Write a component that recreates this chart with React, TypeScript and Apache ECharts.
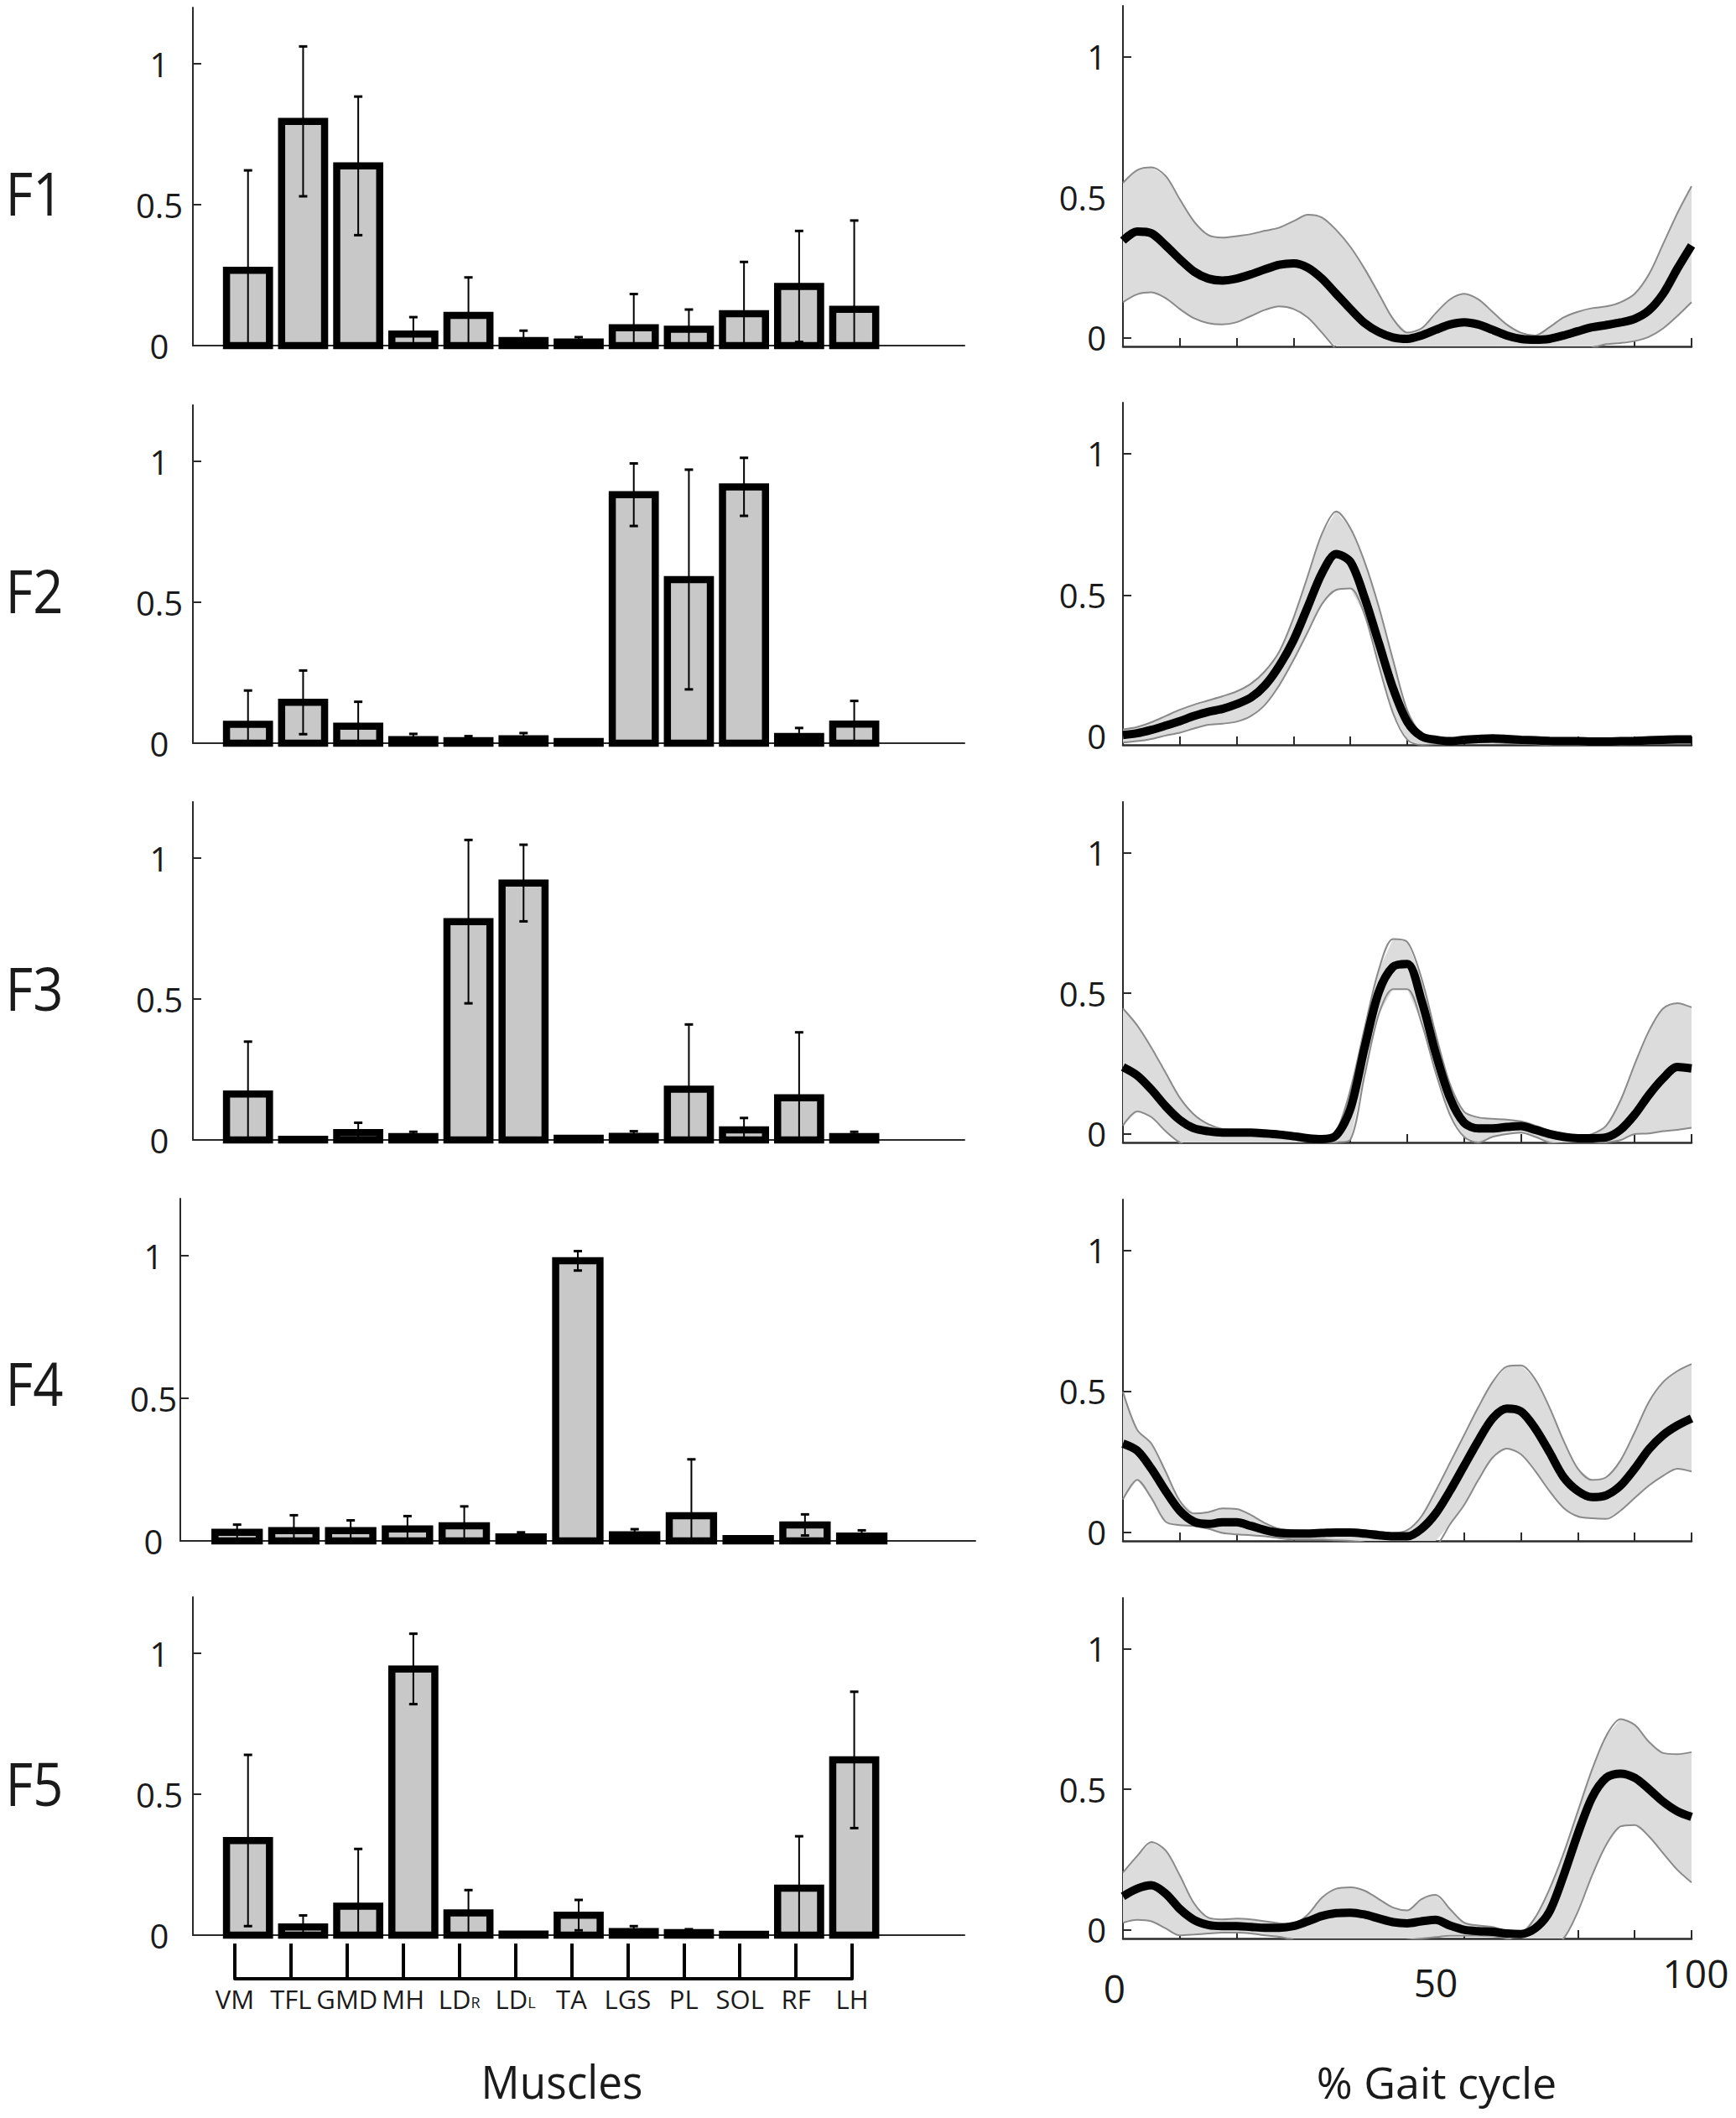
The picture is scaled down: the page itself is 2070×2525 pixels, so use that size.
import React, { useEffect, useRef } from "react";
import * as echarts from "echarts";

// ---------------- data ----------------
const muscles = ["VM", "TFL", "GMD", "MH", "LDR", "LDL", "TA", "LGS", "PL", "SOL", "RF", "LH"];
const barX = [1, 2, 3, 4, 5, 6, 7, 8, 9, 10, 11, 12];
const rowLabels = ["F1", "F2", "F3", "F4", "F5"];

const f1BarMean = [0.267, 0.796, 0.638, 0.041, 0.107, 0.018, 0.013, 0.063, 0.058, 0.113, 0.21, 0.129];
const f1BarSd = [0.355, 0.266, 0.246, 0.06, 0.135, 0.035, 0.017, 0.12, 0.07, 0.184, 0.197, 0.315];
const f2BarMean = [0.067, 0.145, 0.06, 0.013, 0.009, 0.016, 0.006, 0.882, 0.581, 0.91, 0.024, 0.068];
const f2BarSd = [0.12, 0.113, 0.087, 0.02, 0.016, 0.02, 0.005, 0.111, 0.39, 0.103, 0.03, 0.082];
const f3BarMean = [0.163, 0.002, 0.026, 0.012, 0.775, 0.912, 0.006, 0.013, 0.18, 0.036, 0.15, 0.012];
const f3BarSd = [0.186, 0.001, 0.035, 0.017, 0.29, 0.136, 0.005, 0.018, 0.23, 0.042, 0.232, 0.017];
const f4BarMean = [0.03, 0.036, 0.036, 0.042, 0.053, 0.014, 0.982, 0.021, 0.088, 0.008, 0.056, 0.017];
const f4BarSd = [0.027, 0.054, 0.036, 0.045, 0.068, 0.016, 0.034, 0.02, 0.198, 0.003, 0.037, 0.02];
const f5BarMean = [0.336, 0.029, 0.103, 0.945, 0.079, 0.004, 0.071, 0.013, 0.009, 0.003, 0.167, 0.622];
const f5BarSd = [0.304, 0.041, 0.203, 0.125, 0.081, 0.002, 0.054, 0.019, 0.012, 0.001, 0.184, 0.242];

const gaitPct = [0, 2.5, 5, 7.5, 10, 12.5, 15, 17.5, 20, 22.5, 25, 27.5, 30, 32.5, 35, 37.5, 40, 42.5, 45, 47.5, 50,
  52.5, 55, 57.5, 60, 62.5, 65, 67.5, 70, 72.5, 75, 77.5, 80, 82.5, 85, 87.5, 90, 92.5, 95, 97.5, 100];
const gaitTickLabels = [0, 50, 100];
const yTickValues = [0, 0.5, 1];

const f1Mean = [0.346, 0.378, 0.372, 0.329, 0.28, 0.236, 0.211, 0.204, 0.211, 0.226, 0.244, 0.26, 0.265, 0.25, 0.211, 0.157, 0.103, 0.053, 0.021, 0.002, -0.003, 0.009, 0.029, 0.048, 0.056, 0.048, 0.029, 0.009, -0.003, -0.006, -0.003, 0.009, 0.024, 0.038, 0.046, 0.055, 0.068, 0.098, 0.157, 0.246, 0.329];
const f1Upper = [0.551, 0.596, 0.606, 0.576, 0.493, 0.414, 0.366, 0.357, 0.362, 0.369, 0.381, 0.392, 0.415, 0.438, 0.428, 0.384, 0.324, 0.246, 0.157, 0.068, 0.019, 0.034, 0.088, 0.137, 0.157, 0.137, 0.093, 0.048, 0.019, 0.009, 0.038, 0.073, 0.093, 0.106, 0.112, 0.127, 0.157, 0.226, 0.334, 0.443, 0.539];
const f1Lower = [0.127, 0.155, 0.162, 0.142, 0.103, 0.07, 0.053, 0.048, 0.056, 0.078, 0.1, 0.112, 0.103, 0.073, 0.019, -0.04, -0.09, -0.12, -0.13, -0.13, -0.12, -0.1, -0.08, -0.06, -0.05, -0.06, -0.08, -0.1, -0.1, -0.1, -0.09, -0.07, -0.05, -0.035, -0.022, -0.018, -0.011, 0.004, 0.034, 0.078, 0.127];

const f2Mean = [0.005, 0.011, 0.023, 0.038, 0.054, 0.072, 0.087, 0.097, 0.114, 0.137, 0.181, 0.25, 0.34, 0.458, 0.577, 0.645, 0.617, 0.49, 0.33, 0.17, 0.052, 0.0, -0.012, -0.017, -0.012, -0.009, -0.007, -0.009, -0.012, -0.014, -0.016, -0.017, -0.017, -0.018, -0.018, -0.017, -0.016, -0.014, -0.012, -0.011, -0.011];
const f2Upper = [0.025, 0.033, 0.05, 0.072, 0.094, 0.112, 0.127, 0.142, 0.159, 0.186, 0.231, 0.3, 0.419, 0.567, 0.716, 0.795, 0.736, 0.617, 0.458, 0.27, 0.092, 0.008, -0.005, -0.008, -0.004, 0.0, 0.002, 0.0, -0.004, -0.006, -0.008, -0.009, -0.009, -0.01, -0.01, -0.009, -0.008, -0.006, -0.004, -0.003, -0.003];
const f2Lower = [-0.022, -0.017, -0.009, 0.003, 0.013, 0.028, 0.041, 0.045, 0.052, 0.072, 0.112, 0.181, 0.27, 0.369, 0.468, 0.518, 0.523, 0.43, 0.25, 0.082, -0.012, -0.03, -0.028, -0.027, -0.024, -0.022, -0.022, -0.024, -0.026, -0.028, -0.03, -0.03, -0.03, -0.03, -0.03, -0.029, -0.028, -0.026, -0.024, -0.022, -0.022];

const f3Mean = [0.238, 0.208, 0.158, 0.099, 0.05, 0.02, 0.01, 0.005, 0.005, 0.005, 0.002, -0.002, -0.008, -0.015, -0.018, -0.005, 0.089, 0.307, 0.505, 0.594, 0.604, 0.475, 0.287, 0.129, 0.04, 0.02, 0.02, 0.025, 0.028, 0.015, 0.0, -0.01, -0.015, -0.015, -0.012, 0.015, 0.069, 0.139, 0.198, 0.238, 0.233];
const f3Upper = [0.446, 0.386, 0.307, 0.218, 0.129, 0.069, 0.035, 0.018, 0.015, 0.015, 0.01, 0.002, -0.002, -0.008, -0.01, 0.01, 0.158, 0.376, 0.584, 0.693, 0.683, 0.554, 0.356, 0.178, 0.079, 0.059, 0.054, 0.051, 0.045, 0.03, 0.012, 0.0, -0.008, 0.0, 0.03, 0.119, 0.248, 0.366, 0.446, 0.465, 0.45];
const f3Lower = [0.03, 0.08, 0.06, 0.01, -0.03, -0.045, -0.045, -0.045, -0.045, -0.045, -0.04, -0.04, -0.04, -0.04, -0.035, -0.03, -0.02, 0.208, 0.426, 0.515, 0.515, 0.396, 0.218, 0.069, -0.01, -0.03, -0.01, 0.0, 0.005, -0.01, -0.03, -0.035, -0.035, -0.035, -0.03, -0.022, 0.0, 0.002, 0.01, 0.015, 0.022];

const f4Mean = [0.315, 0.29, 0.226, 0.147, 0.077, 0.038, 0.03, 0.036, 0.036, 0.023, 0.008, -0.002, -0.004, -0.004, -0.002, 0.0, 0.0, -0.004, -0.01, -0.014, -0.014, 0.013, 0.067, 0.147, 0.236, 0.325, 0.404, 0.439, 0.429, 0.369, 0.285, 0.196, 0.147, 0.125, 0.132, 0.166, 0.226, 0.295, 0.345, 0.379, 0.404];
const f4Upper = [0.498, 0.364, 0.315, 0.216, 0.112, 0.067, 0.072, 0.085, 0.083, 0.062, 0.033, 0.013, 0.008, 0.006, 0.008, 0.01, 0.01, 0.008, 0.003, -0.002, 0.008, 0.057, 0.147, 0.246, 0.345, 0.444, 0.533, 0.588, 0.592, 0.543, 0.444, 0.325, 0.226, 0.186, 0.196, 0.255, 0.355, 0.463, 0.533, 0.572, 0.597];
const f4Lower = [0.117, 0.186, 0.122, 0.038, 0.026, 0.023, 0.013, -0.002, -0.007, -0.01, -0.014, -0.02, -0.025, -0.025, -0.025, -0.028, -0.03, -0.035, -0.045, -0.055, -0.06, -0.06, -0.05, 0.028, 0.097, 0.186, 0.265, 0.297, 0.277, 0.218, 0.147, 0.087, 0.057, 0.05, 0.048, 0.077, 0.122, 0.166, 0.201, 0.226, 0.216];

const f5Mean = [0.12, 0.147, 0.159, 0.13, 0.075, 0.036, 0.018, 0.014, 0.014, 0.011, 0.008, 0.008, 0.014, 0.031, 0.05, 0.06, 0.062, 0.055, 0.041, 0.028, 0.024, 0.031, 0.036, 0.016, 0.001, -0.004, -0.006, -0.012, -0.014, 0.006, 0.065, 0.194, 0.342, 0.471, 0.541, 0.556, 0.541, 0.501, 0.456, 0.422, 0.402];
const f5Upper = [0.204, 0.263, 0.313, 0.283, 0.194, 0.095, 0.044, 0.038, 0.041, 0.038, 0.031, 0.024, 0.023, 0.055, 0.115, 0.147, 0.152, 0.14, 0.11, 0.08, 0.07, 0.11, 0.125, 0.075, 0.026, 0.016, 0.011, -0.004, -0.009, 0.045, 0.145, 0.273, 0.422, 0.57, 0.69, 0.749, 0.729, 0.669, 0.629, 0.625, 0.632];
const f5Lower = [0.026, 0.036, 0.031, 0.006, -0.019, -0.016, -0.012, -0.009, -0.009, -0.012, -0.019, -0.024, -0.035, -0.045, -0.05, -0.05, -0.05, -0.05, -0.045, -0.04, -0.035, -0.03, -0.025, -0.02, -0.02, -0.02, -0.022, -0.03, -0.045, -0.06, -0.06, -0.03, 0.065, 0.194, 0.303, 0.368, 0.373, 0.333, 0.273, 0.214, 0.169];

const barMeans = [f1BarMean, f2BarMean, f3BarMean, f4BarMean, f5BarMean];
const barSds = [f1BarSd, f2BarSd, f3BarSd, f4BarSd, f5BarSd];
const gaitMeans = [f1Mean, f2Mean, f3Mean, f4Mean, f5Mean];
const gaitUppers = [f1Upper, f2Upper, f3Upper, f4Upper, f5Upper];
const gaitLowers = [f1Lower, f2Lower, f3Lower, f4Lower, f5Lower];

// ---------------- layout / style ----------------
const FONT = "'Open Sans', 'Noto Sans', 'DejaVu Sans', sans-serif";
const TXT = "#1a1a1a";
const AX = "#2b2b2b";
const GAIT_YMIN = -0.03;
const GAIT_YMAX = 1.18;
const BAR_HALF = 0.39; // half bar width in x units (border centred on the edge)

const leftGrids = [
  { left: 230, top: 9, width: 920, height: 403 },
  { left: 230, top: 483, width: 920, height: 403 },
  { left: 230, top: 956, width: 920, height: 403 },
  { left: 215, top: 1429, width: 948, height: 408 },
  { left: 230, top: 1904, width: 920, height: 403 },
];
const rightGrids = [
  { left: 1339, top: 7, width: 678, height: 406 },
  { left: 1339, top: 480, width: 678, height: 408 },
  { left: 1339, top: 956, width: 678, height: 406 },
  { left: 1339, top: 1430, width: 678, height: 407 },
  { left: 1339, top: 1905, width: 678, height: 406 },
];
const bracketGrid = { left: 280, top: 2317, width: 736, height: 42 };
const rowLabelY = [229, 703, 1177, 1648, 2125];

function barRender(params: any, api: any) {
  const x = api.value(0);
  const m = api.value(1);
  const p1 = api.coord([x - BAR_HALF, m]);
  const p2 = api.coord([x + BAR_HALF, 0]);
  return {
    type: "rect",
    shape: { x: p1[0], y: p1[1], width: p2[0] - p1[0], height: p2[1] - p1[1] },
    style: { fill: "#c8c8c8", stroke: "#000", lineWidth: 8.5 },
  };
}

function errRender(params: any, api: any) {
  const x = api.value(0);
  const m = api.value(1);
  const s = api.value(2);
  const cs = params.coordSys;
  const bottom = cs.y + cs.height;
  const pTop = api.coord([x, m + s]);
  const pLow = api.coord([x, m - s]);
  const lowY = Math.min(pLow[1], bottom);
  const cap = 5;
  const children: any[] = [
    { type: "line", shape: { x1: pTop[0], y1: pTop[1], x2: pTop[0], y2: lowY }, style: { stroke: "#000", lineWidth: 2 } },
    { type: "line", shape: { x1: pTop[0] - cap, y1: pTop[1], x2: pTop[0] + cap, y2: pTop[1] }, style: { stroke: "#000", lineWidth: 3 } },
  ];
  if (pLow[1] < bottom - 1) {
    children.push({ type: "line", shape: { x1: pLow[0] - cap, y1: pLow[1], x2: pLow[0] + cap, y2: pLow[1] }, style: { stroke: "#000", lineWidth: 3 } });
  }
  return { type: "group", children };
}

function makeBandRender(r: number) {
  return (params: any, api: any) => {
    if (params.dataIndex !== 0) return null;
    const up: number[][] = [];
    const lo: number[][] = [];
    gaitPct.forEach((x, i) => {
      up.push(api.coord([x, Math.max(gaitUppers[r][i], GAIT_YMIN)]));
      lo.push(api.coord([x, Math.max(gaitLowers[r][i], GAIT_YMIN)]));
    });
    const points = up.concat(lo.reverse());
    return { type: "polygon", shape: { points }, style: { fill: "#dcdcdc", stroke: "none" } };
  };
}

function buildOption() {
  const grid: any[] = [...leftGrids, ...rightGrids, bracketGrid];
  const xAxis: any[] = [];
  const yAxis: any[] = [];
  const series: any[] = [];

  leftGrids.forEach((_, r) => {
    xAxis.push({
      type: "value", gridIndex: r, min: 0, max: 14,
      axisLine: { show: true, onZero: false, lineStyle: { color: AX, width: 2 } },
      axisTick: { show: false }, axisLabel: { show: false }, splitLine: { show: false },
    });
    yAxis.push({
      type: "value", gridIndex: r, min: 0, max: 1.2,
      axisLine: { show: true, lineStyle: { color: AX, width: 2 } },
      axisTick: { show: true, inside: true, length: 10, customValues: yTickValues, lineStyle: { color: AX, width: 2 } },
      axisLabel: {
        show: true, customValues: yTickValues, fontSize: 40, fontFamily: FONT, color: TXT,
        align: "center", margin: r === 3 ? 32 : 40, padding: [0, 0, 16, 0],
      },
      splitLine: { show: false },
    });
  });

  rightGrids.forEach((_, r) => {
    const gi = 5 + r;
    const last = r === 4;
    xAxis.push({
      type: "value", gridIndex: gi, min: 0, max: 100, interval: 10,
      axisLine: { show: true, onZero: false, lineStyle: { color: AX, width: 2.5 } },
      axisTick: { show: true, inside: true, length: 10, lineStyle: { color: AX, width: 2 } },
      axisLabel: last
        ? {
            show: true, customValues: gaitTickLabels, margin: 51, verticalAlign: "middle",
            formatter: (v: number) => (v === 0 ? "{a|0}" : v === 50 ? "{b|50}" : "{c|100}"),
            rich: {
              a: { fontSize: 46, fontFamily: FONT, color: TXT, padding: [16, 20, 0, 0] },
              b: { fontSize: 46, fontFamily: FONT, color: TXT, padding: [2, 0, 0, 68] },
              c: { fontSize: 46, fontFamily: FONT, color: TXT, padding: [0, 0, 20, 10] },
            },
          }
        : { show: false },
      splitLine: { show: false },
    });
    yAxis.push({
      type: "value", gridIndex: gi, min: GAIT_YMIN, max: GAIT_YMAX,
      axisLine: { show: true, onZero: false, lineStyle: { color: AX, width: 2 } },
      axisTick: { show: true, inside: true, length: 10, customValues: yTickValues, lineStyle: { color: AX, width: 2 } },
      axisLabel: {
        show: true, customValues: yTickValues, fontSize: 40, fontFamily: FONT, color: TXT,
        align: "right", margin: 20, padding: [0, 0, 10, 0],
      },
      splitLine: { show: false },
    });
  });

  // bracket axis with muscle names
  xAxis.push({
    type: "category", gridIndex: 10, data: muscles, boundaryGap: false, position: "bottom",
    axisLine: { show: true, lineStyle: { color: "#000", width: 4 } },
    axisTick: { show: true, inside: true, length: 42, alignWithLabel: true, interval: 0, lineStyle: { color: "#000", width: 4 } },
    axisLabel: {
      show: true, interval: 0, margin: 8, fontSize: 31, fontFamily: FONT, color: TXT,
      formatter: (v: string) => (v === "LDR" ? "LD{s|R}" : v === "LDL" ? "LD{s|L}" : v),
      rich: { s: { fontSize: 18, fontFamily: FONT, color: TXT, verticalAlign: "bottom", padding: [0, 0, 2, 0] } },
    },
    splitLine: { show: false },
  });
  yAxis.push({ type: "value", gridIndex: 10, show: false });

  for (let r = 0; r < 5; r++) {
    series.push({
      type: "custom", xAxisIndex: r, yAxisIndex: r, silent: true,
      data: barX.map((x, i) => [x, barMeans[r][i]]),
      renderItem: barRender, z: 2,
    });
    series.push({
      type: "custom", xAxisIndex: r, yAxisIndex: r, silent: true,
      data: barX.map((x, i) => [x, barMeans[r][i], barSds[r][i]]),
      renderItem: errRender, z: 3,
    });
    const gi = 5 + r;
    series.push({
      type: "custom", xAxisIndex: gi, yAxisIndex: gi, silent: true, clip: true,
      data: gaitPct.map((x, i) => [x, gaitLowers[r][i], gaitUppers[r][i]]),
      renderItem: makeBandRender(r), z: 1,
    });
    series.push({
      type: "line", xAxisIndex: gi, yAxisIndex: gi, silent: true,
      data: gaitPct.map((x, i) => [x, gaitLowers[r][i]]),
      symbol: "none", smooth: 0.3, lineStyle: { color: "#8a8a8a", width: 2 }, z: 3,
    });
    series.push({
      type: "line", xAxisIndex: gi, yAxisIndex: gi, silent: true,
      data: gaitPct.map((x, i) => [x, gaitUppers[r][i]]),
      symbol: "none", smooth: 0.3, lineStyle: { color: "#8a8a8a", width: 2 }, z: 3,
    });
    series.push({
      type: "line", xAxisIndex: gi, yAxisIndex: gi, silent: true,
      data: gaitPct.map((x, i) => [x, gaitMeans[r][i]]),
      symbol: "none", smooth: 0.3, lineStyle: { color: "#000", width: 10 }, z: 4,
    });
  }

  const graphic: any[] = [
    ...rowLabels.map((t, i) => ({
      type: "text", x: 41, y: rowLabelY[i], scaleX: 0.88,
      style: { text: t, fontSize: 72, fontFamily: FONT, fill: TXT, align: "center", verticalAlign: "middle" },
    })),
    {
      type: "text", x: 670, y: 2481, scaleX: 0.95,
      style: { text: "Muscles", fontSize: 54, fontFamily: FONT, fill: TXT, align: "center", verticalAlign: "middle" },
    },
    {
      type: "text", x: 1713, y: 2481,
      style: { text: "% Gait cycle", fontSize: 52, fontFamily: FONT, fill: TXT, align: "center", verticalAlign: "middle" },
    },
  ];

  return { animation: false, backgroundColor: "#ffffff", grid, xAxis, yAxis, series, graphic };
}

export default function App() {
  const ref = useRef<HTMLDivElement | null>(null);
  useEffect(() => {
    document.body.style.margin = "0";
    if (!ref.current) return;
    const chart = echarts.init(ref.current, undefined, { renderer: "svg" });
    chart.setOption(buildOption() as any);
    return () => chart.dispose();
  }, []);
  return <div ref={ref} style={{ width: 2070, height: 2525 }} />;
}
